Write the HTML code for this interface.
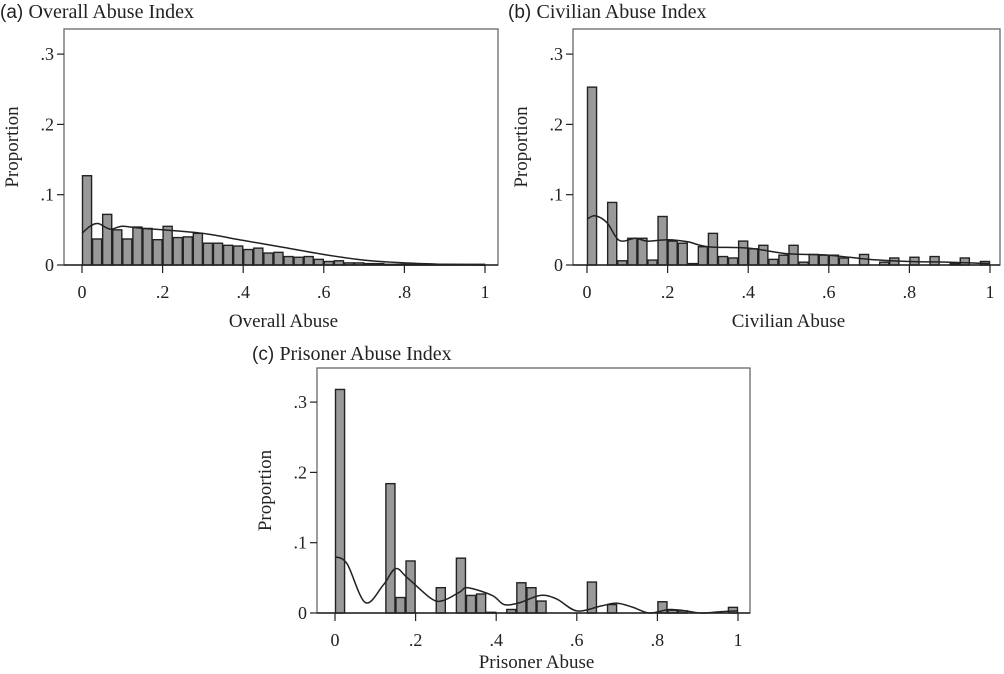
<!DOCTYPE html>
<html><head><meta charset="utf-8"><style>
html,body{margin:0;padding:0;background:#fff;}
svg{display:block;font-family:"Liberation Serif",serif;}
</style></head><body>
<svg id="chart" width="1004" height="674" viewBox="0 0 1004 674"></svg>
<script>
// Panel (a) data: 40 bins of width 0.025
const binsA = [0.127,0.037,0.072,0.050,0.037,0.054,0.052,0.036,0.055,0.039,0.040,0.045,0.031,0.031,0.028,0.027,0.022,0.024,0.017,0.018,0.012,0.011,0.012,0.008,0.005,0.006,0.003,0.003,0.002,0.002,0.001,0.001,0.001,0.001,0.001,0.001,0.001,0.001,0.001,0.001];
const densXA = [0,0.02,0.04,0.07,0.1,0.15,0.2,0.3,0.4,0.5,0.6,0.7,0.8,0.9,1];
const densYA = [0.045,0.055,0.059,0.051,0.055,0.052,0.05,0.045,0.035,0.025,0.015,0.007,0.003,0.001,0];
// Panel (b)
const binsB = [0.253,0,0.089,0.006,0.038,0.038,0.007,0.069,0.034,0.031,0.002,0.026,0.045,0.012,0.010,0.034,0.023,0.028,0.008,0.014,0.028,0.004,0.015,0.014,0.014,0.010,0,0.015,0,0.004,0.010,0,0.011,0,0.012,0,0.002,0.010,0,0.005];
const densXB = [0,0.02,0.05,0.08,0.12,0.15,0.2,0.25,0.3,0.4,0.5,0.6,0.7,0.8,0.9,1];
const densYB = [0.065,0.07,0.06,0.035,0.038,0.034,0.036,0.033,0.026,0.024,0.016,0.014,0.008,0.005,0.004,0.002];
// Panel (c)
const binsC = [0.318,0,0,0,0,0.184,0.022,0.074,0,0,0.036,0,0.078,0.025,0.027,0.001,0,0.005,0.043,0.036,0.017,0,0,0,0,0.044,0,0.012,0,0,0,0,0.016,0.004,0.003,0,0,0,0,0.008];
const densXC = [0,0.03,0.075,0.12,0.15,0.18,0.24,0.27,0.31,0.33,0.39,0.42,0.46,0.51,0.55,0.6,0.66,0.7,0.74,0.78,0.83,0.87,0.91,0.96,1];
const densYC = [0.08,0.07,0.015,0.04,0.063,0.05,0.02,0.018,0.03,0.036,0.025,0.012,0.015,0.025,0.02,0.003,0.01,0.014,0.008,0.0,0.005,0.003,0.0,0.002,0.003];
const yTicks = [0,0.1,0.2,0.3];
const yTickLabels = ["0",".1",".2",".3"];
const xTicks = [0,0.2,0.4,0.6,0.8,1];
const xTickLabels = ["0",".2",".4",".6",".8","1"];

const NS="http://www.w3.org/2000/svg";
const svg=document.getElementById('chart');
function el(t,a,p){const e=document.createElementNS(NS,t);for(const k in a)e.setAttribute(k,a[k]);(p||svg).appendChild(e);return e;}

function smoothPath(pts){
  let d='M'+pts[0][0].toFixed(1)+','+pts[0][1].toFixed(1);
  for(let i=0;i<pts.length-1;i++){
    const p0=pts[Math.max(i-1,0)],p1=pts[i],p2=pts[i+1],p3=pts[Math.min(i+2,pts.length-1)];
    const c1=[p1[0]+(p2[0]-p0[0])/6,p1[1]+(p2[1]-p0[1])/6];
    const c2=[p2[0]-(p3[0]-p1[0])/6,p2[1]-(p3[1]-p1[1])/6];
    d+='C'+c1.map(v=>v.toFixed(1)).join(',')+' '+c2.map(v=>v.toFixed(1)).join(',')+' '+p2[0].toFixed(1)+','+p2[1].toFixed(1);
  }
  return d;
}

function panel(cfg){
  const g=el('g',{});
  
  
  const x=v=>cfg.x0+v*403;
  const y=v=>cfg.base-v*703;
  const r=el('rect',{x:cfg.left,y:cfg.top,width:cfg.right-cfg.left,height:cfg.base-cfg.top,fill:'none',stroke:'#666','stroke-width':1.3},g);
  
  
  cfg.bins.forEach((v,i)=>{
    if(v<=0)return;
    const b=el('rect',{x:x(i*0.025)+0.5,y:y(v),width:403*0.025-1,height:Math.max(cfg.base-y(v),0.8),fill:'#999',stroke:'#222','stroke-width':1.4},g);
    
    
  });
  const pts=cfg.dx.map((v,i)=>[x(v),y(cfg.dy[i])]);
  const p=el('path',{d:smoothPath(pts),fill:'none',stroke:'#222','stroke-width':1.5,'stroke-linejoin':'round'},g);
  
  
  el('line',{x1:cfg.left,x2:cfg.right,y1:cfg.base,y2:cfg.base,stroke:'#222','stroke-width':1.5},g);
  yTicks.forEach((v,i)=>{
    el('line',{x1:cfg.left-7,x2:cfg.left,y1:y(v),y2:y(v),stroke:'#222','stroke-width':1.2},g);
    const t=el('text',{x:cfg.left-10,y:y(v)+6,'text-anchor':'end','font-size':18,fill:'#222'},g);
    t.textContent=yTickLabels[i];
    
    
  });
  xTicks.forEach((v,i)=>{
    el('line',{x1:x(v),x2:x(v),y1:cfg.base,y2:cfg.base+8,stroke:'#222','stroke-width':1.2},g);
    const t=el('text',{x:x(v),y:cfg.base+33,'text-anchor':'middle','font-size':18,fill:'#222'},g);
    t.textContent=xTickLabels[i];
    
    
  });
  const yt=el('text',{x:0,y:0,transform:`translate(${cfg.left-46},${(cfg.top+cfg.base)/2}) rotate(-90)`,'text-anchor':'middle','font-size':19,fill:'#222'},g);
  yt.textContent='Proportion';
  
  
  const xt=el('text',{x:x(0.5),y:cfg.base+cfg.xtoff,'text-anchor':'middle','font-size':19,fill:'#222'},g);
  xt.textContent=cfg.xtitle;
  
  
  const tt=el('text',{x:cfg.tx,y:cfg.ty,'font-size':20,fill:'#222'},g);
  const s=el('tspan',{'font-family':'Liberation Sans, sans-serif','font-size':19},tt);
  s.textContent=cfg.letter+' ';
  const s2=el('tspan',{},tt);
  s2.textContent=cfg.title;
  
  
}
panel({id:'overall',left:64,right:498,top:29,base:265,x0:82,bins:binsA,dx:densXA,dy:densYA,xtitle:'Overall Abuse',xtoff:62,letter:'(a)',title:'Overall Abuse Index',tx:0,ty:18});
panel({id:'civilian',left:573,right:1000,top:29,base:265,x0:587,bins:binsB,dx:densXB,dy:densYB,xtitle:'Civilian Abuse',xtoff:62,letter:'(b)',title:'Civilian Abuse Index',tx:508,ty:18});
panel({id:'prisoner',left:317,right:750,top:368,base:613,x0:335,bins:binsC,dx:densXC,dy:densYC,xtitle:'Prisoner Abuse',xtoff:55,letter:'(c)',title:'Prisoner Abuse Index',tx:252,ty:360});
</script>
</body></html>
